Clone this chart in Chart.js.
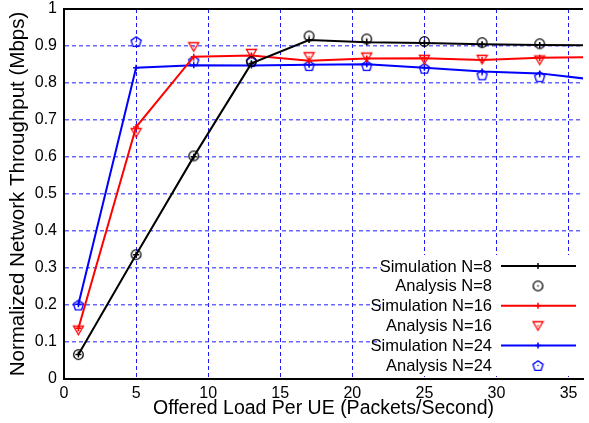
<!DOCTYPE html>
<html>
<head>
<meta charset="utf-8">
<script src="https://cdn.jsdelivr.net/npm/chart.js@4.4.0/dist/chart.umd.min.js"></script>
<style>
  html, body { margin: 0; padding: 0; background: #fff; }
</style>
</head>
<body>
<canvas id="throughputChart" width="589" height="423"></canvas>
<script>
// offered load per UE (packets/s)
const loads = [1, 5, 9, 13, 17, 21, 25, 29, 33, 37]

const simN8 = [0.066, 0.336, 0.601, 0.853, 0.916, 0.910, 0.908, 0.905, 0.903, 0.902]
const anaN8 = [0.066, 0.336, 0.603, 0.858, 0.927, 0.919, 0.912, 0.909, 0.906]

const simN16 = [0.137, 0.681, 0.871, 0.874, 0.860, 0.866, 0.867, 0.862, 0.868, 0.870]
const anaN16 = [0.132, 0.666, 0.898, 0.880, 0.871, 0.870, 0.864, 0.864, 0.862]

const simN24 = [0.202, 0.841, 0.848, 0.847, 0.849, 0.851, 0.841, 0.831, 0.826, 0.808]
const anaN24 = [0.200, 0.912, 0.860, 0.858, 0.847, 0.847, 0.840, 0.822, 0.817]

const xTitle = 'Offered Load Per UE (Packets/Second)'
const yTitle = 'Normalized Network Throughput (Mbps)'
const FONT = '"Liberation Sans", Arial, Helvetica, sans-serif'

function pts(values) {
    return values.map((v, i) => ({ x: loads[i], y: v }))
}

// hollow markers with a small dot in the middle
function makeMarker(shape, color) {
    const c = document.createElement('canvas')
    c.width = 13
    c.height = 13
    const g = c.getContext('2d')
    g.strokeStyle = color
    g.fillStyle = color
    g.lineWidth = 1.3
    g.beginPath()
    if (shape === 'circle') {
        g.arc(6.5, 6.5, 4.8, 0, Math.PI * 2)
    } else if (shape === 'triangleDown') {
        g.moveTo(1.5, 2.5)
        g.lineTo(11.5, 2.5)
        g.lineTo(6.5, 11)
        g.closePath()
    } else if (shape === 'pentagon') {
        for (let k = 0; k < 5; k++) {
            const a = -Math.PI / 2 + k * 2 * Math.PI / 5
            const px = 6.5 + 5.3 * Math.cos(a)
            const py = 7 + 5.3 * Math.sin(a)
            if (k === 0) g.moveTo(px, py)
            else g.lineTo(px, py)
        }
        g.closePath()
    }
    g.stroke()
    g.fillRect(5.8, 5.8, 1.4, 1.4)
    return c
}

const simStyle = (color) => ({
    showLine: true,
    borderColor: color,
    backgroundColor: color,
    borderWidth: 2,
    pointStyle: 'cross',
    pointRadius: 3,
    pointBorderWidth: 1.5,
    pointHoverRadius: 3
})

const anaStyle = (shape, color) => ({
    showLine: false,
    borderColor: color,
    backgroundColor: color,
    pointStyle: makeMarker(shape, color),
    pointRadius: 5
})

const datasets = [
    { label: 'Simulation N=8', data: pts(simN8), ...simStyle('#000000') },
    { label: 'Analysis N=8', data: pts(anaN8), ...anaStyle('circle', '#000000') },
    { label: 'Simulation N=16', data: pts(simN16), ...simStyle('#ff0000') },
    { label: 'Analysis N=16', data: pts(anaN16), ...anaStyle('triangleDown', '#ff0000') },
    { label: 'Simulation N=24', data: pts(simN24), ...simStyle('#0000ff') },
    { label: 'Analysis N=24', data: pts(anaN24), ...anaStyle('pentagon', '#0000ff') }
]

// key box in the lower right corner of the plot, text right-aligned
const keyBox = {
    id: 'keyBox',
    afterDatasetsDraw(chart) {
        const ctx = chart.ctx
        const textRight = 492
        const lineStart = 501
        const lineEnd = 576
        const markX = 538
        const rowTop = 266
        const rowStep = 19.9
        ctx.save()
        ctx.fillStyle = '#ffffff'
        ctx.fillRect(381, 255, 200, 121)
        ctx.font = '16.5px ' + FONT
        ctx.textAlign = 'right'
        ctx.textBaseline = 'middle'
        chart.data.datasets.forEach((ds, i) => {
            const y = rowTop + i * rowStep
            ctx.fillStyle = '#000000'
            ctx.fillText(ds.label, textRight, y + 1)
            if (ds.showLine) {
                ctx.strokeStyle = ds.borderColor
                ctx.lineWidth = 2
                ctx.beginPath()
                ctx.moveTo(lineStart, y)
                ctx.lineTo(lineEnd, y)
                ctx.stroke()
                ctx.lineWidth = 1.5
                ctx.beginPath()
                ctx.moveTo(markX - 3, y)
                ctx.lineTo(markX + 3, y)
                ctx.moveTo(markX, y - 3)
                ctx.lineTo(markX, y + 3)
                ctx.stroke()
            } else {
                const img = ds.pointStyle
                ctx.drawImage(img, markX - img.width / 2, y - img.height / 2)
            }
        })
        ctx.restore()
    },
    afterDraw(chart) {
        // top frame line
        const a = chart.chartArea
        const ctx = chart.ctx
        ctx.save()
        ctx.strokeStyle = '#000000'
        ctx.lineWidth = 2
        ctx.beginPath()
        ctx.moveTo(a.left - 1, a.top)
        ctx.lineTo(a.right, a.top)
        ctx.stroke()
        ctx.restore()
    }
}

const gridColor = (edge, color) => (ctx) =>
    ctx.tick && (ctx.tick.value === 0 || ctx.tick.value === edge) ? 'rgba(0,0,0,0)' : color

const throughputChart = new Chart(document.getElementById('throughputChart'), {
    type: 'scatter',
    data: { datasets: datasets },
    plugins: [keyBox],
    options: {
        responsive: false,
        animation: false,
        events: [],
        layout: { padding: { top: 9, right: 0, left: 0, bottom: 0 } },
        plugins: {
            legend: { display: false },
            tooltip: { enabled: false }
        },
        scales: {
            x: {
                type: 'linear',
                min: 0,
                max: 36,
                grid: { color: gridColor(36, '#1a1aff'), lineWidth: 1, drawTicks: false },
                border: { display: true, color: '#000000', width: 2, dash: [4, 3] },
                ticks: {
                    stepSize: 5,
                    includeBounds: false,
                    padding: 5,
                    color: '#000000',
                    font: { family: FONT, size: 16 },
                    maxRotation: 0
                },
                title: {
                    display: true,
                    text: xTitle,
                    color: '#000000',
                    font: { family: FONT, size: 19.5 },
                    padding: { top: 0, bottom: 3 }
                },
                afterFit(scale) {
                    scale.height = 44
                    scale.paddingLeft = 0
                    scale.paddingRight = 0
                }
            },
            y: {
                min: 0,
                max: 1,
                grid: { color: gridColor(1, 'rgba(40,40,255,0.7)'), lineWidth: 1.5, drawTicks: false },
                border: { display: true, color: '#000000', width: 2, dash: [4, 3] },
                ticks: {
                    stepSize: 0.1,
                    padding: 7,
                    color: '#000000',
                    font: { family: FONT, size: 16 },
                    callback: (v) => String(Math.round(v * 10) / 10)
                },
                title: {
                    display: true,
                    text: yTitle,
                    color: '#000000',
                    font: { family: FONT, size: 20.5 },
                    padding: { top: 6, bottom: 0 }
                },
                afterFit(scale) {
                    scale.width = 64
                    scale.paddingTop = 0
                    scale.paddingBottom = 0
                }
            }
        }
    }
})
</script>
</body>
</html>
